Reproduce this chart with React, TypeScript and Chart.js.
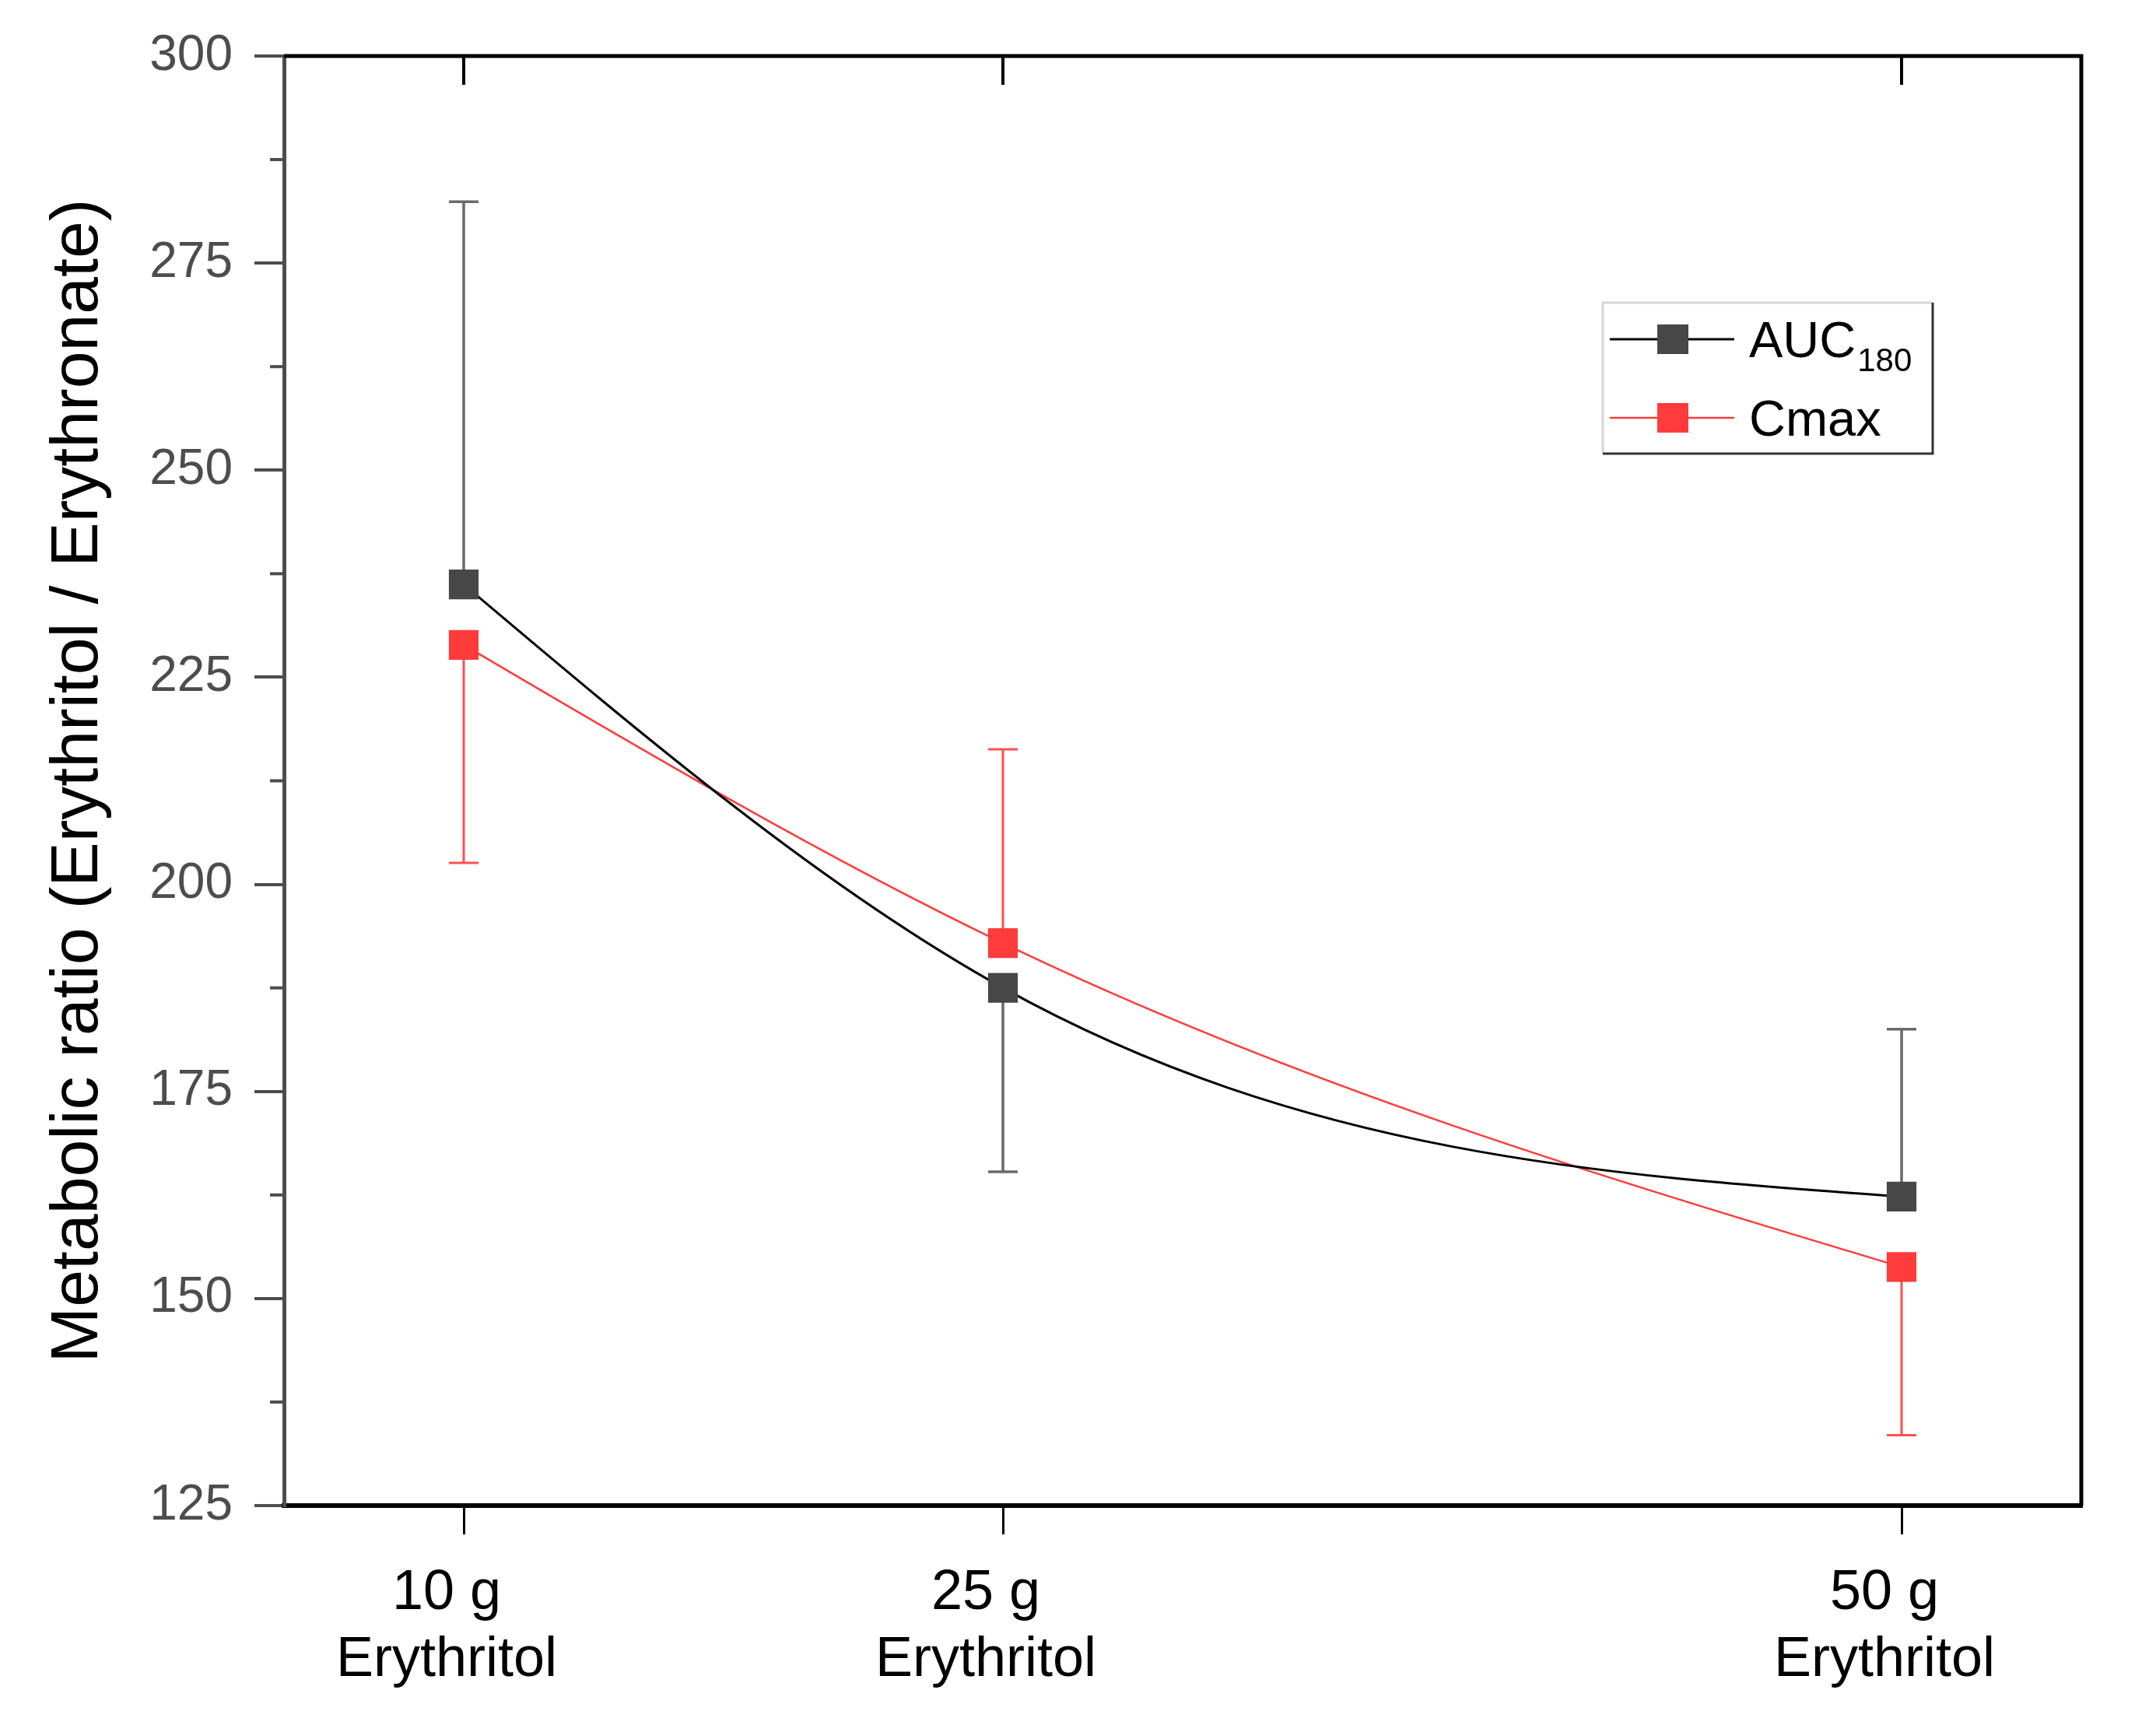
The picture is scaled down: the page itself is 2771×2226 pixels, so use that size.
import { useEffect, useRef } from "react";
import { Chart, registerables } from "chart.js";

Chart.register(...registerables);

// 用量（横軸は線形、10/25/50 g の位置に目盛り）
const doses = [10, 25, 50];
const doseLabels = ["10 g", "25 g", "50 g"];
const doseUnit = "Erythritol";

// AUC180 と Cmax の代謝比（平均値と誤差棒の長さ・向き）
const aucMean = [236.2, 187.5, 162.3];
const aucSD = [46.2, 22.2, 20.2];
const aucErrSide = [1, -1, 1];
const cmaxMean = [228.9, 192.9, 153.8];
const cmaxSD = [26.3, 23.4, 20.3];
const cmaxErrSide = [-1, 1, -1];

const yMinorTicks = [137.5, 162.5, 187.5, 212.5, 237.5, 262.5, 287.5];

const W = 2771;
const H = 2226;
const FONT = "'Liberation Sans', Arial, sans-serif";
const AXIS_GRAY = "#4d4d4d";
const RED = "#ff3b3b";

// 自然スプラインの各点での傾き（データ座標）
function naturalSlopes(xs: number[], ys: number[]) {
  const n = xs.length;
  const h = xs.slice(1).map((x, i) => x - xs[i]);
  const d = h.map((hi, i) => (ys[i + 1] - ys[i]) / hi);
  const M = new Array(n).fill(0);
  if (n > 2) {
    const a: number[] = [];
    const b: number[] = [];
    const c: number[] = [];
    const r: number[] = [];
    for (let i = 1; i < n - 1; i++) {
      a.push(h[i - 1]);
      b.push(2 * (h[i - 1] + h[i]));
      c.push(h[i]);
      r.push(6 * (d[i] - d[i - 1]));
    }
    const m = b.length;
    for (let i = 1; i < m; i++) {
      const w = a[i] / b[i - 1];
      b[i] -= w * c[i - 1];
      r[i] -= w * r[i - 1];
    }
    const sol = new Array(m).fill(0);
    sol[m - 1] = r[m - 1] / b[m - 1];
    for (let i = m - 2; i >= 0; i--) sol[i] = (r[i] - c[i] * sol[i + 1]) / b[i];
    for (let i = 0; i < m; i++) M[i + 1] = sol[i];
  }
  return xs.map((_, i) => {
    if (i < n - 1) return d[i] - (h[i] * (2 * M[i] + M[i + 1])) / 6;
    return d[i - 1] + (h[i - 1] * (2 * M[i] + M[i - 1])) / 6;
  });
}

const splineLines = {
  id: "splineLines",
  beforeDatasetsDraw(chart: Chart) {
    const xs = chart.scales.x;
    const ys = chart.scales.y;
    chart.data.datasets.forEach((ds: any, di: number) => {
      const meta: any = chart.getDatasetMeta(di);
      const vx = ds.data.map((p: any) => p.x);
      const vy = ds.data.map((p: any) => p.y);
      const slopes = naturalSlopes(vx, vy);
      meta.data.forEach((pt: any, i: number) => {
        if (i > 0) {
          const hh = (vx[i] - vx[i - 1]) / 3;
          pt.cp1x = xs.getPixelForValue(vx[i] - hh);
          pt.cp1y = ys.getPixelForValue(vy[i] - slopes[i] * hh);
        } else {
          pt.cp1x = pt.x;
          pt.cp1y = pt.y;
        }
        if (i < vx.length - 1) {
          const hh = (vx[i + 1] - vx[i]) / 3;
          pt.cp2x = xs.getPixelForValue(vx[i] + hh);
          pt.cp2y = ys.getPixelForValue(vy[i] + slopes[i] * hh);
        } else {
          pt.cp2x = pt.x;
          pt.cp2y = pt.y;
        }
      });
      if (meta.dataset) {
        meta.dataset._pointsUpdated = true;
        meta.dataset._path = undefined;
      }
    });
  },
};

const errorBars = {
  id: "errorBars",
  beforeDatasetsDraw(chart: Chart) {
    const { ctx } = chart;
    const xs = chart.scales.x;
    const ys = chart.scales.y;
    const sets = [
      { mean: aucMean, sd: aucSD, side: aucErrSide, color: "#6a6a6a", w: 3.5 },
      { mean: cmaxMean, sd: cmaxSD, side: cmaxErrSide, color: "#ff5050", w: 3 },
    ];
    ctx.save();
    sets.forEach((s) => {
      doses.forEach((d, i) => {
        const px = xs.getPixelForValue(d);
        const y0 = ys.getPixelForValue(s.mean[i]);
        const y1 = ys.getPixelForValue(s.mean[i] + s.side[i] * s.sd[i]);
        ctx.strokeStyle = s.color;
        ctx.lineWidth = s.w;
        ctx.beginPath();
        ctx.moveTo(px, y0);
        ctx.lineTo(px, y1);
        ctx.moveTo(px - 19, y1);
        ctx.lineTo(px + 19, y1);
        ctx.stroke();
      });
    });
    ctx.restore();
  },
};

const frame = {
  id: "frame",
  afterDraw(chart: Chart) {
    const { ctx, chartArea: a } = chart;
    const xs = chart.scales.x;
    const ys = chart.scales.y;
    ctx.save();
    // 上辺・右辺
    ctx.strokeStyle = "#000";
    ctx.lineWidth = 5;
    ctx.beginPath();
    ctx.moveTo(a.left, a.top);
    ctx.lineTo(a.right, a.top);
    ctx.lineTo(a.right, a.bottom);
    ctx.stroke();
    // 上辺の内向き目盛り
    ctx.lineWidth = 4;
    doses.forEach((d) => {
      const px = xs.getPixelForValue(d);
      ctx.beginPath();
      ctx.moveTo(px, a.top);
      ctx.lineTo(px, a.top + 37);
      ctx.stroke();
    });
    // 縦軸の補助目盛り
    ctx.strokeStyle = AXIS_GRAY;
    ctx.lineWidth = 4;
    yMinorTicks.forEach((v) => {
      const py = ys.getPixelForValue(v);
      ctx.beginPath();
      ctx.moveTo(a.left - 18, py);
      ctx.lineTo(a.left, py);
      ctx.stroke();
    });
    ctx.restore();
  },
};

const legendBox = {
  id: "legendBox",
  afterDraw(chart: Chart) {
    const { ctx } = chart;
    const left = 2060;
    const top = 389;
    const right = 2484;
    const bottom = 583;
    ctx.save();
    ctx.fillStyle = "#fff";
    ctx.fillRect(left, top, right - left, bottom - top);
    ctx.lineWidth = 3;
    ctx.strokeStyle = "#d6d6d6";
    ctx.beginPath();
    ctx.moveTo(left, bottom);
    ctx.lineTo(left, top);
    ctx.lineTo(right, top);
    ctx.stroke();
    ctx.strokeStyle = "#333";
    ctx.beginPath();
    ctx.moveTo(right, top);
    ctx.lineTo(right, bottom);
    ctx.lineTo(left, bottom);
    ctx.stroke();

    const rows = [
      { y: 436, line: "#000", lw: 3, mark: "#474747", label: "AUC", sub: "180" },
      { y: 537, line: RED, lw: 2.5, mark: RED, label: "Cmax", sub: "" },
    ];
    rows.forEach((r) => {
      ctx.strokeStyle = r.line;
      ctx.lineWidth = r.lw;
      ctx.beginPath();
      ctx.moveTo(2069, r.y);
      ctx.lineTo(2229, r.y);
      ctx.stroke();
      ctx.fillStyle = r.mark;
      ctx.fillRect(2150 - 20, r.y - 19, 40, 38);
      ctx.fillStyle = "#000";
      ctx.textBaseline = "alphabetic";
      ctx.textAlign = "left";
      ctx.font = `65px ${FONT}`;
      ctx.fillText(r.label, 2248, r.y + 23);
      if (r.sub) {
        const w = ctx.measureText(r.label).width;
        ctx.font = `42px ${FONT}`;
        ctx.fillText(r.sub, 2248 + w + 2, r.y + 41);
      }
    });
    ctx.restore();
  },
};

export default function App() {
  const ref = useRef<HTMLCanvasElement>(null);

  useEffect(() => {
    document.body.style.margin = "0";
    if (!ref.current) return;
    const canvas = ref.current;
    canvas.width = W;
    canvas.height = H;
    Chart.defaults.font.family = FONT;

    const chart = new Chart(canvas, {
      type: "line",
      data: {
        datasets: [
          {
            label: "AUC180",
            data: doses.map((d, i) => ({ x: d, y: aucMean[i] })),
            borderColor: "#000",
            borderWidth: 3,
            tension: 0.4,
            pointStyle: "rect",
            pointRadius: 27,
            pointBorderWidth: 0,
            pointBackgroundColor: "#474747",
            pointBorderColor: "#474747",
          },
          {
            label: "Cmax",
            data: doses.map((d, i) => ({ x: d, y: cmaxMean[i] })),
            borderColor: RED,
            borderWidth: 2.5,
            tension: 0.4,
            pointStyle: "rect",
            pointRadius: 27,
            pointBorderWidth: 0,
            pointBackgroundColor: RED,
            pointBorderColor: RED,
          },
        ],
      },
      options: {
        responsive: false,
        maintainAspectRatio: false,
        devicePixelRatio: 1,
        animation: false,
        layout: { padding: { top: 72, right: 96, left: 0, bottom: 0 } },
        plugins: {
          legend: { display: false },
          tooltip: { enabled: false },
        },
        scales: {
          x: {
            type: "linear",
            min: 5,
            max: 55,
            afterBuildTicks: (s: any) => {
              s.ticks = doses.map((v) => ({ value: v }));
            },
            afterFit: (s: any) => {
              s.height = 291;
            },
            grid: {
              drawOnChartArea: false,
              drawTicks: true,
              tickLength: 37,
              color: "#000",
              lineWidth: 3,
            },
            border: { display: true, color: "#000", width: 6 },
            ticks: {
              color: "#000",
              font: { size: 72, lineHeight: 1.2 },
              padding: 33,
              labelOffset: -22,
              maxRotation: 0,
              autoSkip: false,
              callback: (v: number | string) => {
                const i = doses.indexOf(Number(v));
                return i < 0 ? "" : [doseLabels[i], doseUnit];
              },
            },
          },
          y: {
            min: 125,
            max: 300,
            afterFit: (s: any) => {
              s.width = 365;
            },
            grid: {
              drawOnChartArea: false,
              drawTicks: true,
              tickLength: 38,
              color: AXIS_GRAY,
              lineWidth: 4,
            },
            border: { display: true, color: AXIS_GRAY, width: 5 },
            ticks: {
              stepSize: 25,
              color: AXIS_GRAY,
              font: { size: 64 },
              padding: 28,
            },
            title: {
              display: true,
              text: "Metabolic ratio (Erythritol / Erythronate)",
              color: "#000",
              font: { size: 86, lineHeight: 1.2 },
              padding: { top: 50, bottom: 0 },
            },
          },
        },
      },
      plugins: [splineLines, errorBars, frame, legendBox],
    });

    return () => {
      chart.destroy();
    };
  }, []);

  return (
    <div style={{ width: W, height: H, overflow: "hidden", background: "#fff" }}>
      <canvas
        ref={ref}
        role="img"
        aria-label="Metabolic ratio chart"
        style={{ display: "block" }}
      />
    </div>
  );
}
